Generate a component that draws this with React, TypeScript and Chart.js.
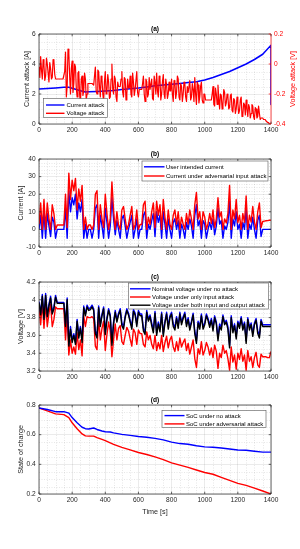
import React, { useEffect, useRef } from "react";
import { Chart, registerables } from "chart.js";

Chart.register(...registerables);

const FONT = "'Liberation Sans', Arial, Helvetica, sans-serif";
const INK = "#262626";
const GRID = "rgba(38,38,38,0.16)";
const MINOR = "rgba(38,38,38,0.22)";
const BLUE = "#0000ff";
const RED = "#ff0000";
const BLACK = "#000000";
const TICK_SIZE = 6.6;
const LABEL_SIZE = 7.2;
const LEGEND_SIZE = 6;
const TITLE_SIZE = 6.6;
const LW = 1.4;

// ---------- data ----------
const X_TICKS = [0, 200, 400, 600, 800, 1000, 1200, 1400];
// sampling grids of the noisy signals
const TIME_10S = Array.from({ length: 141 }, (_, i) => i * 10);
const TIME_5S = Array.from({ length: 281 }, (_, i) => i * 5);

// (a) current attack [A]
const attackTime = [0, 50, 100, 150, 180, 200, 250, 280, 300, 350, 400, 450, 500, 550, 600, 650, 700, 750, 800, 850, 900, 950, 1000, 1050, 1100, 1150, 1200, 1250, 1300, 1350, 1400, 1400];
const currentAttack = [2.33, 2.36, 2.4, 2.45, 2.45, 2.38, 2.22, 2.13, 2.15, 2.17, 2.2, 2.24, 2.3, 2.35, 2.4, 2.47, 2.55, 2.6, 2.65, 2.7, 2.76, 2.82, 2.93, 3.1, 3.3, 3.5, 3.75, 4.0, 4.3, 4.65, 5.25, 1.3];
// (a) voltage attack [V], every 5 s
const voltageAttack = [
  -0.02, -0.09, 0.05, -0.04, -0.1, 0.03, -0.01, -0.11, -0.08, 0.04, 0.0, -0.06, -0.12, 0.01, -0.03, -0.1, -0.09, 0.03, 0.02, -0.07,
  -0.1, -0.1, -0.1, -0.1, -0.1, -0.1, -0.1, -0.1, -0.1, -0.1, -0.1, -0.05, 0.08, -0.22, -0.15, 0.1, 0.07, -0.08, -0.2, -0.03,
  0.02, -0.19, -0.13, 0.0, -0.02, -0.16, -0.22, -0.06, -0.05, -0.2, -0.27, -0.1, -0.08, -0.21, -0.18, -0.06, -0.1, -0.24, -0.2, -0.13,
  -0.13, -0.13, -0.13, -0.13, -0.13, -0.13, -0.14, -0.08, -0.02, -0.18, -0.2, -0.04, -0.05, -0.15, -0.22, -0.08, -0.1, -0.2, -0.25, -0.12,
  -0.05, -0.2, -0.18, -0.07, -0.12, -0.23, -0.22, -0.1, 0.0, -0.17, -0.2, -0.08, -0.1, -0.22, -0.25, -0.12, -0.15, -0.15, -0.15, -0.1,
  -0.05, -0.19, -0.22, -0.09, -0.1, -0.24, -0.2, -0.1, -0.16, -0.16, -0.08, -0.2, -0.22, -0.06, -0.12, -0.21, -0.17, -0.17, -0.05, -0.19,
  -0.22, -0.17, -0.17, -0.17, -0.17, -0.13, -0.08, -0.2, -0.25, -0.1, -0.12, -0.22, -0.2, -0.09, -0.17, -0.17, -0.1, -0.23, -0.24, -0.08,
  -0.12, -0.2, -0.06, -0.18, -0.22, -0.08, -0.1, -0.24, -0.2, -0.12, -0.07, -0.2, -0.23, -0.1, -0.14, -0.23, -0.2, -0.12, -0.18, -0.18,
  -0.1, -0.2, -0.25, -0.11, -0.12, -0.23, -0.19, -0.08, -0.1, -0.22, -0.24, -0.13, -0.15, -0.25, -0.2, -0.12, -0.13, -0.22, -0.25, -0.15,
  -0.19, -0.19, -0.11, -0.24, -0.22, -0.13, -0.17, -0.25, -0.09, -0.2, -0.27, -0.12, -0.14, -0.26, -0.22, -0.15, -0.12, -0.24, -0.26, -0.2,
  -0.2, -0.24, -0.24, -0.24, -0.24, -0.24, -0.24, -0.24, -0.24, -0.2, -0.15, -0.27, -0.28, -0.16, -0.2, -0.27, -0.14, -0.23, -0.3, -0.2,
  -0.21, -0.3, -0.27, -0.17, -0.19, -0.28, -0.26, -0.2, -0.22, -0.3, -0.29, -0.21, -0.2, -0.31, -0.32, -0.23, -0.24, -0.33, -0.3, -0.22,
  -0.26, -0.33, -0.31, -0.24, -0.22, -0.35, -0.34, -0.26, -0.27, -0.34, -0.24, -0.3, -0.35, -0.27, -0.29, -0.36, -0.33, -0.27, -0.28, -0.35,
  -0.37, -0.29, -0.3, -0.36, -0.35, -0.28, -0.33, -0.37, -0.36, -0.36, -0.36, -0.37, -0.37, -0.37, -0.38, -0.38, -0.39, -0.39, -0.4, -0.4,
  -0.4,
];

// (b) currents [A], every 10 s
const intendedCurrent = [
  0, 8, -5, 10, -5, 9, 2, -4, 7, 4,
  -5, 0, 0, 0, 0, 0, 12, -5, 22, 10,
  18, 14, 20, 6, 15, 10, 17, -5, 3, -5,
  0, 0, -5, 0, 12, 14, -5, 8, 2, -5,
  12, 4, -5, 2, 18, 6, -3, 5, 0, -5,
  6, 8, 2, -5, 0, 4, 8, -5, 0, 6,
  -5, 0, 0, 8, 10, -5, 3, 0, 5, 9,
  -4, 10, 4, 8, -5, 10, 3, -5, 6, 0,
  -5, 4, 6, 0, 5, -5, 3, 0, -5, 4,
  0, 6, 2, -5, 8, 14, 2, 5, -5, 5,
  3, -5, 0, 4, 0, 6, -3, 2, 12, 3,
  5, -5, 2, 0, 4, 16, -5, 6, 2, 10,
  0, 3, -5, 4, 0, 12, -5, 3, 0, 7,
  0, -5, 5, 8, -4, 0, 0, 0, 0, 0,
  0,
];
const attackedCurrent = [
  3, 15, 0, 17, 0, 15, 6, 0, 14, 9,
  0, 2.5, 2.5, 2.5, 2.5, 2.5, 20, 1, 32, 17,
  28, 22, 29, 11, 23, 16, 25, 0, 7, 0,
  2.5, 2.5, 0, 2.5, 20, 22, 0, 14, 6, 1,
  20, 9, 0, 6, 27, 11, 0, 10, 2.5, 0,
  11, 13, 6, 0, 2.7, 8, 13, 0, 2.7, 11,
  0, 2.8, 2.8, 14, 16, 0, 7, 2.8, 10, 15,
  1, 16, 8, 14, 0, 17, 7, 0, 11, 3,
  0, 8, 11, 3, 10, 0, 7, 3, 0, 9,
  3, 11, 6, 0, 14, 21, 6, 10, 0, 10,
  7, 0, 3.3, 9, 3.4, 11, 1, 6, 18, 7,
  10, 0, 6, 3.6, 9, 25, 0, 11, 6, 17,
  3.8, 8, 0, 9, 4, 19, 0, 8, 4.2, 13,
  4.3, 0, 10, 15, 1, 4.5, 4.7, 4.9, 5, 5.2,
  5.3,
];

// (c) voltages [V], every 10 s
const voltageNominal = [
  3.98, 3.85, 4.06, 3.8, 4.07, 3.83, 3.95, 4.04, 3.86, 3.92,
  4.05, 3.97, 3.97, 3.97, 3.97, 3.97, 3.73, 4.02, 3.5, 3.7,
  3.55, 3.62, 3.52, 3.78, 3.6, 3.7, 3.55, 3.93, 3.84, 3.94,
  3.9, 3.91, 3.94, 3.9, 3.65, 3.6, 3.93, 3.72, 3.84, 3.92,
  3.64, 3.8, 3.9, 3.83, 3.52, 3.75, 3.88, 3.77, 3.85, 3.9,
  3.74, 3.7, 3.82, 3.9, 3.85, 3.77, 3.7, 3.89, 3.85, 3.73,
  3.88, 3.84, 3.84, 3.68, 3.64, 3.88, 3.78, 3.83, 3.74, 3.66,
  3.87, 3.63, 3.75, 3.67, 3.86, 3.62, 3.76, 3.86, 3.7, 3.82,
  3.86, 3.73, 3.69, 3.81, 3.71, 3.86, 3.75, 3.81, 3.86, 3.73,
  3.8, 3.69, 3.76, 3.85, 3.65, 3.54, 3.76, 3.7, 3.84, 3.7,
  3.74, 3.84, 3.79, 3.72, 3.79, 3.68, 3.82, 3.75, 3.57, 3.73,
  3.69, 3.83, 3.74, 3.77, 3.7, 3.49, 3.82, 3.66, 3.73, 3.59,
  3.76, 3.71, 3.81, 3.69, 3.75, 3.54, 3.8, 3.69, 3.74, 3.62,
  3.74, 3.79, 3.65, 3.6, 3.78, 3.72, 3.72, 3.72, 3.72, 3.72,
  3.72,
];
const voltageInputAttack = [
  3.92, 3.72, 3.97, 3.68, 3.96, 3.7, 3.85, 3.95, 3.7, 3.78,
  3.92, 3.9, 3.9, 3.9, 3.9, 3.9, 3.55, 3.84, 3.38, 3.55,
  3.4, 3.47, 3.39, 3.63, 3.44, 3.55, 3.37, 3.82, 3.7, 3.81,
  3.8, 3.8, 3.81, 3.79, 3.48, 3.44, 3.79, 3.55, 3.68, 3.76,
  3.43, 3.61, 3.75, 3.65, 3.36, 3.55, 3.73, 3.55, 3.68, 3.71,
  3.53, 3.5, 3.6, 3.69, 3.65, 3.56, 3.48, 3.67, 3.63, 3.5,
  3.66, 3.62, 3.62, 3.5, 3.47, 3.64, 3.55, 3.6, 3.5, 3.45,
  3.6, 3.43, 3.52, 3.45, 3.6, 3.42, 3.52, 3.59, 3.46, 3.55,
  3.59, 3.47, 3.42, 3.53, 3.43, 3.57, 3.47, 3.52, 3.56, 3.43,
  3.51, 3.39, 3.47, 3.55, 3.34, 3.24, 3.45, 3.39, 3.53, 3.38,
  3.43, 3.52, 3.47, 3.38, 3.46, 3.35, 3.49, 3.42, 3.23, 3.4,
  3.35, 3.49, 3.4, 3.43, 3.34, 3.21, 3.47, 3.3, 3.38, 3.22,
  3.4, 3.33, 3.45, 3.31, 3.38, 3.21, 3.43, 3.31, 3.36, 3.24,
  3.35, 3.41, 3.27, 3.24, 3.39, 3.36, 3.36, 3.36, 3.35, 3.35,
  3.42,
];
const voltageBothAttack = [
  3.97, 3.83, 4.04, 3.78, 4.05, 3.81, 3.93, 4.02, 3.84, 3.9,
  4.03, 3.96, 3.96, 3.96, 3.96, 3.96, 3.7, 4.0, 3.48, 3.67,
  3.52, 3.6, 3.5, 3.76, 3.57, 3.68, 3.52, 3.91, 3.82, 3.92,
  3.88, 3.89, 3.92, 3.88, 3.62, 3.57, 3.91, 3.7, 3.82, 3.9,
  3.61, 3.78, 3.88, 3.81, 3.49, 3.73, 3.86, 3.75, 3.83, 3.88,
  3.71, 3.67, 3.8, 3.88, 3.83, 3.75, 3.67, 3.87, 3.83, 3.7,
  3.86, 3.82, 3.82, 3.65, 3.61, 3.86, 3.76, 3.81, 3.71, 3.63,
  3.85, 3.6, 3.73, 3.64, 3.84, 3.59, 3.74, 3.84, 3.67, 3.8,
  3.84, 3.7, 3.66, 3.79, 3.68, 3.84, 3.72, 3.79, 3.84, 3.7,
  3.78, 3.66, 3.74, 3.83, 3.62, 3.51, 3.74, 3.67, 3.82, 3.67,
  3.72, 3.82, 3.77, 3.69, 3.77, 3.65, 3.8, 3.73, 3.54, 3.7,
  3.66, 3.81, 3.72, 3.75, 3.67, 3.46, 3.8, 3.63, 3.71, 3.56,
  3.74, 3.68, 3.79, 3.66, 3.73, 3.51, 3.78, 3.66, 3.72, 3.59,
  3.72, 3.77, 3.62, 3.57, 3.76, 3.7, 3.7, 3.7, 3.7, 3.7,
  3.7,
];

// (d) state of charge
const socTime = [0, 50, 100, 150, 180, 200, 230, 260, 280, 300, 330, 350, 380, 400, 430, 450, 500, 550, 600, 650, 700, 750, 800, 850, 900, 950, 1000, 1050, 1100, 1150, 1200, 1250, 1300, 1350, 1400];
const socNoAttack = [0.78, 0.77, 0.755, 0.755, 0.745, 0.715, 0.68, 0.65, 0.64, 0.638, 0.645, 0.635, 0.625, 0.62, 0.618, 0.612, 0.602, 0.595, 0.588, 0.583, 0.575, 0.565, 0.55, 0.54, 0.535, 0.525, 0.518, 0.515, 0.51, 0.503, 0.497, 0.495, 0.488, 0.482, 0.482];
const socAttack = [0.78, 0.76, 0.74, 0.735, 0.715, 0.68, 0.64, 0.605, 0.592, 0.59, 0.59, 0.58, 0.568, 0.56, 0.545, 0.535, 0.514, 0.497, 0.48, 0.466, 0.45, 0.432, 0.41, 0.395, 0.379, 0.362, 0.345, 0.333, 0.312, 0.292, 0.272, 0.258, 0.24, 0.22, 0.2];

// ---------- helpers ----------
const pts = (xs: number[], ys: number[]) => xs.map((x, i) => ({ x, y: ys[i] }));
const fmt = (v: any) => String(Math.round(Number(v) * 1000) / 1000);

type LegendSpec = {
  x: number; y: number; w: number; h: number;
  lineX1: number; lineX2: number; textX: number;
  rows: number[]; items: { label: string; color: string }[];
};
type AxisSpec = { min: number; max: number; step: number; minor: number; label: string; labelX: number; color?: string };
type Spec = {
  canvasTop: number; canvasHeight: number; areaTop: number; areaBottom: number;
  title: string; y: AxisSpec; y1?: AxisSpec; xLabel?: string; xLabelY?: number;
  datasets: any[]; legend: LegendSpec;
};

function line(data: any[], color: string, axis = "y", width = LW) {
  return { data, borderColor: color, backgroundColor: color, borderWidth: width, pointRadius: 0, tension: 0, fill: false, yAxisID: axis, borderJoinStyle: "round" };
}

function makeDecor(spec: Spec) {
  const off = spec.canvasTop;
  return {
    id: "decor",
    beforeDatasetsDraw(chart: any) {
      const { ctx, chartArea: a, scales } = chart;
      ctx.save();
      ctx.strokeStyle = MINOR;
      ctx.lineWidth = 0.5;
      ctx.setLineDash([1, 1.5]);
      for (let v = 50; v < 1400; v += 50) {
        if (v % 200 === 0) continue;
        const x = Math.round(scales.x.getPixelForValue(v)) + 0.5;
        ctx.beginPath(); ctx.moveTo(x, a.top); ctx.lineTo(x, a.bottom); ctx.stroke();
      }
      const ys = spec.y;
      const n = Math.round((ys.max - ys.min) / ys.minor);
      const per = Math.round(ys.step / ys.minor);
      for (let i = 1; i < n; i++) {
        if (i % per === 0) continue;
        const y = Math.round(scales.y.getPixelForValue(ys.min + i * ys.minor)) + 0.5;
        ctx.beginPath(); ctx.moveTo(a.left, y); ctx.lineTo(a.right, y); ctx.stroke();
      }
      ctx.restore();
    },
    afterDraw(chart: any) {
      const { ctx, chartArea: a, scales } = chart;
      ctx.save();
      ctx.lineWidth = 0.7;
      ctx.strokeStyle = INK;
      ctx.beginPath();
      ctx.moveTo(a.right, a.top); ctx.lineTo(a.left, a.top); ctx.lineTo(a.left, a.bottom); ctx.lineTo(a.right, a.bottom);
      if (!spec.y1) ctx.lineTo(a.right, a.top);
      ctx.stroke();
      if (spec.y1) {
        ctx.strokeStyle = spec.y1.color || RED;
        ctx.beginPath(); ctx.moveTo(a.right, a.top); ctx.lineTo(a.right, a.bottom); ctx.stroke();
      }
      const TL = 2.3;
      ctx.strokeStyle = INK;
      ctx.beginPath();
      for (const v of X_TICKS) {
        const x = scales.x.getPixelForValue(v);
        ctx.moveTo(x, a.bottom); ctx.lineTo(x, a.bottom - TL);
        ctx.moveTo(x, a.top); ctx.lineTo(x, a.top + TL);
      }
      const nY = Math.round((spec.y.max - spec.y.min) / spec.y.step);
      for (let i = 0; i <= nY; i++) {
        const y = scales.y.getPixelForValue(spec.y.min + i * spec.y.step);
        ctx.moveTo(a.left, y); ctx.lineTo(a.left + TL, y);
        if (!spec.y1) { ctx.moveTo(a.right, y); ctx.lineTo(a.right - TL, y); }
      }
      ctx.stroke();
      if (spec.y1) {
        ctx.strokeStyle = spec.y1.color || RED;
        ctx.beginPath();
        const n1 = Math.round((spec.y1.max - spec.y1.min) / spec.y1.step);
        for (let i = 0; i <= n1; i++) {
          const y = scales.y1.getPixelForValue(spec.y1.min + i * spec.y1.step);
          ctx.moveTo(a.right, y); ctx.lineTo(a.right - TL, y);
        }
        ctx.stroke();
      }
      const cx = (a.left + a.right) / 2;
      ctx.fillStyle = "#000";
      ctx.font = `bold ${TITLE_SIZE}px ${FONT}`;
      ctx.textAlign = "center";
      ctx.textBaseline = "middle";
      ctx.fillText(spec.title, cx, a.top - 4.6);
      ctx.font = `${LABEL_SIZE}px ${FONT}`;
      const cy = (a.top + a.bottom) / 2;
      const drawV = (text: string, x: number, color: string) => {
        ctx.save();
        ctx.translate(x, cy);
        ctx.rotate(-Math.PI / 2);
        ctx.fillStyle = color;
        ctx.fillText(text, 0, 0);
        ctx.restore();
      };
      drawV(spec.y.label, spec.y.labelX, INK);
      if (spec.y1) drawV(spec.y1.label, spec.y1.labelX, spec.y1.color || RED);
      if (spec.xLabel && spec.xLabelY) {
        ctx.fillStyle = INK;
        ctx.fillText(spec.xLabel, cx, spec.xLabelY - off);
      }
      const L = spec.legend;
      ctx.fillStyle = "#fff";
      ctx.fillRect(L.x, L.y - off, L.w, L.h);
      ctx.strokeStyle = "#555";
      ctx.lineWidth = 0.6;
      ctx.strokeRect(L.x, L.y - off, L.w, L.h);
      ctx.font = `${LEGEND_SIZE}px ${FONT}`;
      ctx.textAlign = "left";
      ctx.textBaseline = "middle";
      L.items.forEach((it, i) => {
        const y = L.rows[i] - off;
        ctx.strokeStyle = it.color;
        ctx.lineWidth = LW;
        ctx.beginPath(); ctx.moveTo(L.lineX1, y); ctx.lineTo(L.lineX2, y); ctx.stroke();
        ctx.fillStyle = "#000";
        ctx.fillText(it.label, L.textX, y + 0.3);
      });
      ctx.restore();
    },
  };
}

function Panel({ spec }: { spec: Spec }) {
  const ref = useRef<HTMLCanvasElement | null>(null);
  useEffect(() => {
    if (!ref.current) return;
    const padTop = spec.areaTop - spec.canvasTop;
    const xHeight = spec.canvasHeight - (spec.areaBottom - spec.canvasTop);
    const tickFont = { family: FONT, size: TICK_SIZE };
    const scales: any = {
      x: {
        type: "linear", min: 0, max: 1400,
        ticks: { stepSize: 200, autoSkip: false, maxRotation: 0, padding: 2.5, color: INK, font: tickFont, callback: fmt },
        grid: { color: GRID, lineWidth: 0.6, drawTicks: false },
        border: { display: false },
        afterFit: (s: any) => { s.height = xHeight; },
      },
      y: {
        type: "linear", position: "left", min: spec.y.min, max: spec.y.max,
        ticks: { stepSize: spec.y.step, autoSkip: false, padding: 3.3, color: INK, font: tickFont, callback: fmt },
        grid: { color: GRID, lineWidth: 0.6, drawTicks: false },
        border: { display: false },
        afterFit: (s: any) => { s.width = 39; },
      },
    };
    if (spec.y1) {
      scales.y1 = {
        type: "linear", position: "right", min: spec.y1.min, max: spec.y1.max,
        ticks: { stepSize: spec.y1.step, autoSkip: false, padding: 3, color: spec.y1.color || RED, font: tickFont, callback: fmt },
        grid: { display: false, drawTicks: false },
        border: { display: false },
        afterFit: (s: any) => { s.width = 29; },
      };
    }
    const chart = new Chart(ref.current, {
      type: "line",
      data: { datasets: spec.datasets },
      options: {
        animation: false,
        responsive: false,
        devicePixelRatio: 1,
        events: [],
        layout: { padding: { top: padTop, left: 0, bottom: 0, right: spec.y1 ? 0 : 29 } },
        plugins: { legend: { display: false }, tooltip: { enabled: false }, title: { display: false } },
        scales,
      } as any,
      plugins: [makeDecor(spec)],
    });
    return () => chart.destroy();
  }, [spec]);
  return (
    <canvas
      ref={ref}
      width={300}
      height={spec.canvasHeight}
      style={{ position: "absolute", left: 0, top: spec.canvasTop, width: 300, height: spec.canvasHeight, display: "block" }}
    />
  );
}

const SPECS: Spec[] = [
  {
    canvasTop: 18, canvasHeight: 124, areaTop: 34, areaBottom: 124, title: "(a)",
    y: { min: 0, max: 6, step: 2, minor: 0.5, label: "Current attack [A]", labelX: 26.7 },
    y1: { min: -0.4, max: 0.2, step: 0.2, minor: 0.05, label: "Voltage attack [V]", labelX: 293.3, color: RED },
    datasets: [
      line(pts(TIME_5S, voltageAttack), RED, "y1", 1.2),
      line(pts(attackTime, currentAttack), BLUE, "y", 1.5),
    ],
    legend: {
      x: 43.5, y: 98.5, w: 64, h: 19, lineX1: 46, lineX2: 64.5, textX: 66.5, rows: [105, 113.3],
      items: [{ label: "Current attack", color: BLUE }, { label: "Voltage attack", color: RED }],
    },
  },
  {
    canvasTop: 143, canvasHeight: 122, areaTop: 159, areaBottom: 247, title: "(b)",
    y: { min: -10, max: 40, step: 10, minor: 2, label: "Current [A]", labelX: 20.7 },
    datasets: [
      line(pts(TIME_10S, attackedCurrent), RED),
      line(pts(TIME_10S, intendedCurrent), BLUE),
    ],
    legend: {
      x: 142, y: 161, w: 126, h: 20, lineX1: 144, lineX2: 164.5, textX: 166, rows: [166.8, 176],
      items: [{ label: "User intended current", color: BLUE }, { label: "Current under adversarial input attack", color: RED }],
    },
  },
  {
    canvasTop: 266, canvasHeight: 123, areaTop: 282, areaBottom: 371, title: "(c)",
    y: { min: 3.2, max: 4.2, step: 0.2, minor: 0.05, label: "Voltage [V]", labelX: 20.7 },
    datasets: [
      line(pts(TIME_10S, voltageBothAttack), BLACK),
      line(pts(TIME_10S, voltageNominal), BLUE),
      line(pts(TIME_10S, voltageInputAttack), RED),
    ],
    legend: {
      x: 128.5, y: 283, w: 140, h: 26, lineX1: 130, lineX2: 150.5, textX: 152, rows: [288.8, 297, 305.2],
      items: [
        { label: "Nominal voltage under no attack", color: BLUE },
        { label: "Voltage under only input attack", color: RED },
        { label: "Voltage under both input and output attack", color: BLACK },
      ],
    },
  },
  {
    canvasTop: 389, canvasHeight: 135, areaTop: 405, areaBottom: 494, title: "(d)",
    y: { min: 0.2, max: 0.8, step: 0.2, minor: 0.05, label: "State of charge", labelX: 20.7 },
    xLabel: "Time [s]", xLabelY: 511.7,
    datasets: [
      line(pts(socTime, socNoAttack), BLUE),
      line(pts(socTime, socAttack), RED),
    ],
    legend: {
      x: 162, y: 410.5, w: 104, h: 17, lineX1: 164.5, lineX2: 184.5, textX: 186, rows: [415.6, 423.9],
      items: [{ label: "SoC under no attack", color: BLUE }, { label: "SoC under adversarial attack", color: RED }],
    },
  },
];

export default function App() {
  return (
    <div style={{ position: "fixed", left: 0, top: 0, width: 300, height: 549, background: "#fff", overflow: "hidden" }}>
      {SPECS.map((s, i) => (
        <Panel key={i} spec={s} />
      ))}
    </div>
  );
}
